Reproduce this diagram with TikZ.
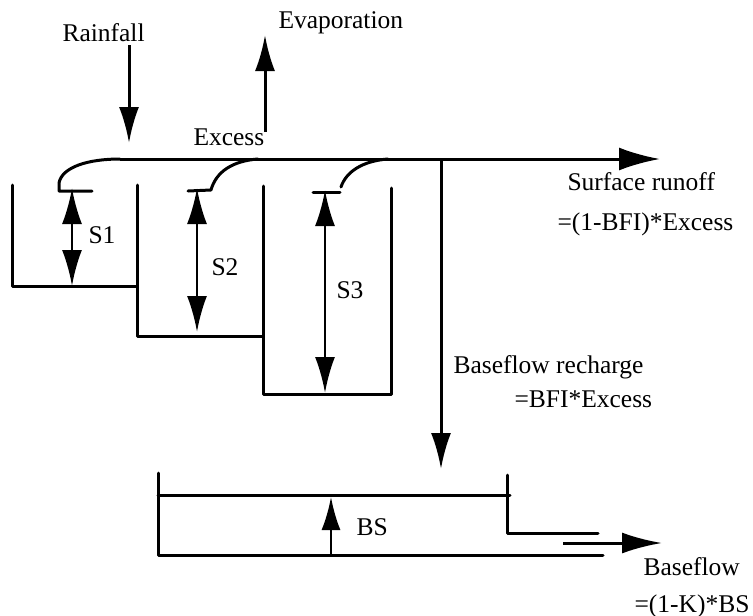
\documentclass[tikz,border=0pt]{standalone}
\usepackage{fontspec}
\setmainfont{Liberation Serif}
\usetikzlibrary{arrows.meta,positioning}

\begin{document}
\begin{tikzpicture}[
  x=1pt, y=-1pt,
  line width=3pt,
  label/.style={anchor=base west, inner sep=0pt, font=\fontsize{25.5}{27}\selectfont},
  wall/.style={line join=round, line cap=round},
  arrow/.style={-{Latex[length=36pt,width=20pt]}},
  twoway/.style={{Latex[length=36pt,width=20pt]}-{Latex[length=36pt,width=20pt]}, line width=2.7pt},
  bigarrow/.style={-{Latex[length=41pt,width=23pt]}},
  smallarrow/.style={-{Latex[length=33pt,width=19pt]}, line width=2.4pt}
]
\useasboundingbox (0,0) rectangle (753,616);

% stores
\draw[wall] (12,185) -- (12,286) -- (137,286);
\draw[wall] (137,185) -- (137,336) -- (263,336);
\draw[wall] (263,186) -- (263,394) -- (391,394) -- (391,188);

% overflow
\coordinate (weira) at (59,191);
\coordinate (weirb) at (211,190);
\coordinate (weirc) at (341,187);
\coordinate (spill) at (120,159);
\coordinate (runoff) at (660,159);
\draw[wall] (92,191) -- (weira) -- (59,183) .. controls (62,167) and (88,159) .. (spill);
\draw[wall] (188,191) -- (weirb) .. controls (216,172) and (232,161) .. (258,159);
\draw[wall] (313,192) -- (340,192);
\draw[wall] (weirc) .. controls (346,172) and (362,161) .. (388,159);
\draw[bigarrow] (spill) -- (runoff);

% depths
\coordinate (sa) at (72,188);
\coordinate (sab) at (72,286);
\coordinate (sb) at (197,188);
\coordinate (sbb) at (197,332);
\coordinate (sc) at (325,190);
\coordinate (scb) at (325,393);
\draw[twoway] (sa) -- (sab);
\draw[twoway] (sb) -- (sbb);
\draw[twoway] (sc) -- (scb);
\node[label] (labela) at (87,243) {S1};
\node[label] (labelb) at (210,275) {S2};
\node[label] (labelc) at (335,298) {S3};

% rain and evaporation
\coordinate (raintop) at (129,45);
\coordinate (rainend) at (129,143);
\coordinate (evapfoot) at (265,132);
\coordinate (evaptop) at (265,35);
\draw[arrow] (raintop) -- (rainend);
\draw[arrow] (evapfoot) -- (evaptop);
\node[label] (rain) at (61,41) {Rainfall};
\node[label] (evap) at (277,28) {Evaporation};
\node[label] (excess) at (192,145) {Excess};

% surface runoff
\node[label] (surface) at (566,190) {Surface runoff};
\node[label] (surfaceeq) at (556,230) {=(1-BFI)*Excess};

% recharge
\coordinate (split) at (441,159);
\coordinate (rechargeend) at (441,469);
\draw[arrow] (split) -- (rechargeend);
\node[label] (recharge) at (452,373) {Baseflow recharge};
\node[label] (rechargeeq) at (513,407) {=BFI*Excess};

% baseflow store
\draw[wall] (158,473) -- (158,555) -- (603,555);
\draw[wall] (158,495) -- (510,495);
\draw[wall] (507,475) -- (507,533) -- (598,533);
\coordinate (bsbase) at (331,555);
\coordinate (bstop) at (331,497);
\coordinate (flowstart) at (563,543);
\coordinate (flowend) at (662,543);
\draw[smallarrow] (bsbase) -- (bstop);
\draw[-{Latex[length=40pt,width=21pt]}] (flowstart) -- (flowend);
\node[label] (bs) at (355,535) {BS};
\node[label] (baseflow) at (642,575) {Baseflow};
\node[label] (baseflowq) at (633,612) {=(1-K)*BS};
\end{tikzpicture}
\end{document}
